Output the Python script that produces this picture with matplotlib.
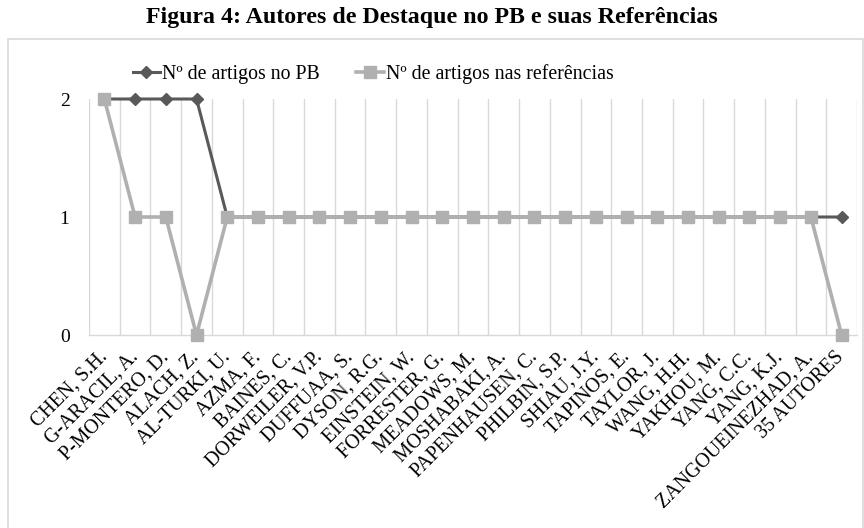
import matplotlib
matplotlib.use("Agg")
import matplotlib.pyplot as plt
from matplotlib.patches import Rectangle
from matplotlib.lines import Line2D

authors = ["CHEN, S.H.", "G-ARACIL, A.", "P-MONTERO, D.", "ALACH, Z.", "AL-TURKI, U.",
           "AZMA, F.", "BAINES, C.", "DORWEILER, V.P.", "DUFFUAA, S.", "DYSON, R.G.",
           "EINSTEIN, W.", "FORRESTER, G.", "MEADOWS, M.", "MOSHABAKI, A.", "PAPENHAUSEN, C.",
           "PHILBIN, S.P.", "SHIAU, J.Y.", "TAPINOS, E.", "TAYLOR, J.", "WANG, H.H.",
           "YAKHOU, M.", "YANG, C.C.", "YANG, K.J.", "ZANGOUEINEZHAD, A.", "35 AUTORES"]
artigos_pb = [2, 2, 2, 2, 1, 1, 1, 1, 1, 1, 1, 1, 1, 1, 1, 1, 1, 1, 1, 1, 1, 1, 1, 1, 1]
artigos_ref = [2, 1, 1, 0, 1, 1, 1, 1, 1, 1, 1, 1, 1, 1, 1, 1, 1, 1, 1, 1, 1, 1, 1, 1, 0]
yticks = [0, 1, 2]

plt.rcParams['font.family'] = ['Liberation Serif', 'DejaVu Serif']

fig = plt.figure(figsize=(8.64, 5.28), dpi=100)
ax = fig.add_axes([89/864, 1-335/528, (857-89)/864, (335-99)/528])

x = list(range(len(authors)))
dark = '#595959'
light = '#b0b0b0'
ax.plot(x, artigos_pb, color=dark, lw=2.2, marker='D', ms=6.5, zorder=3, clip_on=False)
ax.plot(x, artigos_ref, color=light, lw=2.6, marker='s', ms=9, zorder=4, clip_on=False)

ax.set_xlim(-0.5, len(authors)-0.5)
ax.set_ylim(0, 2)
for b in range(len(authors)+1):
    ax.axvline(b-0.5, color='#d9d9d9', lw=1.0, zorder=1)
for s in ['top', 'right', 'left']:
    ax.spines[s].set_visible(False)
ax.spines['bottom'].set_color('#d9d9d9')
ax.spines['bottom'].set_linewidth(1.0)
ax.set_yticks(yticks)
ax.set_yticklabels([str(v) for v in yticks], fontsize=14)
ax.tick_params(axis='y', length=0, pad=14)
ax.set_xticks(x)
ax.set_xticklabels(authors, rotation=45, ha='right', va='center', rotation_mode='anchor', fontsize=14.3)
ax.tick_params(axis='x', length=0, pad=14)

fig.patches.append(Rectangle((8/864, -0.01), 0.99, 1-39/528+0.01, transform=fig.transFigure,
                             fill=False, edgecolor='#d9d9d9', lw=1.2))

fig.text(432/864, 1-17/528, "Figura 4: Autores de Destaque no PB e suas Referências",
         ha='center', va='center', fontsize=17.2, fontweight='bold')

handles = [Line2D([], [], color=dark, lw=2.2, marker='D', ms=6.5),
           Line2D([], [], color=light, lw=2.6, marker='s', ms=9)]
fig.legend(handles, ["Nº de artigos no PB", "Nº de artigos nas referências"],
           loc='center', bbox_to_anchor=(373/864, 1-74/528), ncol=2, frameon=False,
           fontsize=14.3, handlelength=1.4, handletextpad=0.1, columnspacing=1.8)

fig.savefig("out.png", dpi=100)
